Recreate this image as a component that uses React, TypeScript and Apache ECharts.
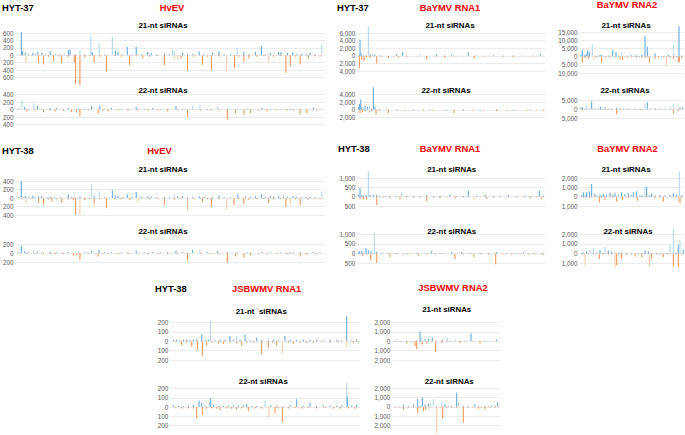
import React, { useEffect, useRef } from "react";
import * as echarts from "echarts";

// [genome bin, siRNA reads, light?]  positive = sense (blue), negative = antisense (orange)
type Bar = [number, number, number?];

// ---------- HYT-37 ----------
const hyt37HvEV21Pos: Bar[] = [[58,620],[62,110],[70,70],[80,25],[93,70],[100,30],[108,90],[120,70],[130,20],[145,110],[160,25],[175,30],[188,20],[200,140],[205,160],[220,30],[235,140,1],[250,20],[268,530,1],[272,90],[293,320,1],[310,25],[333,490,1],[342,130],[350,90],[365,30],[378,220],[392,25],[405,220],[420,30],[440,90],[450,70],[465,25],[490,40],[505,30],[515,160,1],[520,110,1],[545,70],[560,25],[575,30],[595,110],[610,25],[635,70],[655,110],[670,30],[690,25],[710,190,1],[730,90],[745,30],[765,90],[783,240],[795,30],[810,70],[820,90,1],[835,90],[842,90],[862,70],[878,90],[890,25],[905,40],[918,30],[930,70],[945,25],[965,270,1]];
const hyt37HvEV21Neg: Bar[] = [[60,-30],[72,-200,1],[90,-30],[110,-200],[125,-250],[140,-40],[155,-160],[170,-30],[180,-200],[200,-40],[218,-200],[222,-770],[235,-810],[250,-60],[265,-30],[278,-190],[295,-40],[315,-440],[340,-30],[360,-40],[385,-270],[405,-30],[425,-90],[445,-40],[470,-30],[490,-260],[520,-110,1],[530,-120,1],[540,-90],[560,-410],[580,-40],[605,-260],[620,-40],[632,-410],[655,-40],[678,-440,1],[702,-350],[715,-40],[730,-190],[745,-90],[770,-40],[790,-30],[805,-190,1],[820,-40],[840,-30],[857,-470],[870,-300],[885,-40],[900,-250],[925,-90],[945,-30],[960,-40]];
const hyt37HvEV22Pos: Bar[] = [[50,30],[60,260,1],[68,70],[80,20],[95,160,1],[107,100],[120,20],[145,40],[165,40],[185,20],[200,40],[230,20],[250,20],[270,90],[295,110],[310,20],[330,40],[360,20],[380,20],[405,70],[430,20],[455,40],[480,20],[500,20],[525,90],[545,20],[575,110,1],[597,130,1],[620,20],[650,70,1],[680,20],[710,20],[740,20],[785,40],[810,20],[840,20],[870,20],[900,20],[940,50],[960,20]];
const hyt37HvEV22Neg: Bar[] = [[75,-50],[100,-30],[125,-80],[145,-30],[160,-50],[185,-30],[210,-70],[225,-80],[235,-180],[260,-30],[290,-120],[305,-30],[320,-50],[350,-30],[380,-30],[410,-30],[440,-30],[470,-30],[500,-50],[530,-30],[560,-200],[600,-30],[630,-30],[655,-30],[680,-260],[705,-100],[730,-150],[750,-100],[775,-30],[800,-50],[830,-30],[860,-30],[880,-30],[900,-130],[920,-100],[950,-30]];

const hyt37R1_21Pos: Bar[] = [[88,300],[90,4200],[93,700],[100,200],[108,150],[115,7800,1],[120,400],[128,200],[135,400],[150,150],[170,100],[200,400],[218,1000],[240,100],[270,150],[300,100],[320,400],[345,100],[365,350],[390,100],[415,900],[440,150],[465,100],[490,250],[520,100],[550,150],[580,100],[610,100],[632,500]];
const hyt37R1_21Neg: Bar[] = [[88,-3300],[95,-1100],[102,-1400],[110,-300],[120,-500],[130,-200],[140,-2000],[155,-200],[175,-600],[190,-200],[205,-400],[230,-200],[260,-150],[290,-900],[320,-200],[345,-500],[370,-200],[400,-150],[432,-800],[460,-200],[490,-150],[520,-200],[550,-400],[580,-150],[610,-200],[640,-150]];
const hyt37R1_22Pos: Bar[] = [[86,800],[88,1500],[92,2700],[95,700],[100,300],[105,1000],[112,800],[118,1000,1],[125,300],[130,5900],[135,800],[145,200],[170,150],[200,150],[250,150],[300,150],[350,150],[400,150],[450,150],[500,150],[550,150],[600,150],[640,150]];
const hyt37R1_22Neg: Bar[] = [[90,-900],[97,-600],[105,-300],[118,-800,1],[125,-300],[138,-1300],[150,-250],[175,-800],[200,-250],[225,-200],[250,-200],[280,-250],[310,-200],[340,-200],[372,-800],[400,-200],[430,-200],[460,-200],[500,-400],[530,-200],[560,-200],[590,-200],[620,-200],[640,-200]];

const hyt37R2_21Pos: Bar[] = [[753,1200],[757,4200],[763,800],[768,1700],[773,3800],[778,2800],[787,7600,1],[795,500],[800,400],[810,1000],[815,1000],[825,400],[835,600],[848,3800],[858,2800],[866,500],[875,2800,1],[885,400],[895,500],[905,800],[912,400],[920,800],[928,400],[935,1000],[945,12700],[952,6000],[962,500],[975,2100],[985,400],[995,300],[1005,500],[1015,1000],[1022,400],[1030,7600,1],[1035,600],[1041,400],[1047,18500],[1055,600]];
const hyt37R2_21Neg: Bar[] = [[757,-3400],[765,-800],[775,-1400],[790,-1800,1],[800,-500],[815,-3400],[828,-600],[840,-500],[855,-600],[870,-1400],[878,-2000],[890,-600],[905,-500],[920,-500],[935,-600],[948,-800],[958,-3800],[975,-1400],[985,-500],[1000,-600],[1010,-5600,1],[1020,-600],[1030,-1400],[1045,-3400],[1048,-3400],[1055,-800]];
const hyt37R2_22Pos: Bar[] = [[753,800],[757,1200],[763,500],[770,2500,1],[778,500],[785,4400],[795,400],[805,500],[812,1300],[818,500],[825,1000],[835,500],[845,400],[860,800],[870,600],[880,400],[890,400],[900,500],[915,400],[930,400],[945,3500,1],[952,4000],[962,400],[975,600],[990,400],[1005,400],[1020,1500,1],[1030,3300,1],[1040,400],[1050,1200],[1058,1200]];
const hyt37R2_22Neg: Bar[] = [[757,-600],[770,-400],[790,-300],[810,-300],[830,-300],[845,-400],[860,-2900],[875,-300],[895,-300],[915,-300],[935,-600],[955,-300],[975,-300],[995,-300],[1015,-300],[1030,-2300],[1045,-800],[1058,-300]];

// ---------- HYT-38 ----------
const hyt38HvEV21Pos: Bar[] = [[50,20],[58,400],[65,20],[70,40],[80,20],[93,60],[100,25],[110,40],[120,40],[135,20],[145,25],[160,20],[175,20],[200,80],[210,25],[220,20],[235,40],[250,20],[270,330,1],[278,40],[293,160,1],[310,25],[333,180],[342,60],[350,40],[365,25],[378,90],[392,25],[405,140],[420,25],[440,40],[450,30],[465,25],[490,30],[505,25],[520,80,1],[530,40],[545,40],[560,20],[575,25],[595,40],[610,25],[635,25],[655,60],[670,25],[690,20],[712,100],[735,40],[750,25],[765,40],[783,90],[795,25],[810,40],[820,30],[835,40],[850,40],[862,30],[878,40],[890,25],[905,20],[918,25],[930,30],[945,20],[965,160,1]];
const hyt38HvEV21Neg: Bar[] = [[60,-25],[72,-120,1],[90,-25],[110,-120],[125,-150],[140,-30],[150,-80],[165,-25],[180,-120],[200,-30],[215,-60],[222,-400],[235,-390,1],[250,-55],[265,-25],[278,-150],[295,-30],[315,-240],[340,-25],[360,-30],[385,-40],[410,-100,1],[445,-30],[470,-25],[490,-160],[520,-40],[540,-30],[560,-320,1],[580,-30],[605,-100],[620,-30],[632,-215],[655,-30],[678,-270,1],[700,-160],[715,-30],[730,-140],[745,-40],[770,-30],[790,-25],[805,-120],[820,-30],[840,-25],[857,-215],[870,-160,1],[885,-30],[900,-160],[925,-40],[945,-25],[960,-30]];
const hyt38HvEV22Pos: Bar[] = [[50,20],[58,160],[68,40],[80,15],[95,75,1],[107,30],[120,15],[145,20],[165,15],[200,20],[230,15],[250,15],[270,40],[293,75],[310,15],[330,20],[360,15],[380,15],[405,50],[430,15],[455,20],[480,15],[500,15],[525,50],[545,15],[575,75],[597,75,1],[620,15],[650,40],[680,15],[710,15],[740,15],[785,20],[810,15],[840,15],[870,15],[900,15],[940,20],[960,15]];
const hyt38HvEV22Neg: Bar[] = [[75,-25],[100,-20],[125,-30],[145,-20],[160,-25],[185,-20],[215,-55],[225,-40],[235,-160],[260,-20],[290,-80],[305,-20],[320,-30],[350,-20],[380,-20],[410,-20],[440,-20],[470,-20],[500,-30],[530,-20],[560,-160],[600,-20],[630,-20],[655,-20],[680,-215],[705,-80],[730,-100],[750,-55],[775,-20],[800,-30],[830,-20],[860,-20],[880,-20],[900,-80],[920,-40],[950,-20]];

const hyt38R1_21Pos: Bar[] = [[86,100],[90,450],[95,80],[100,60],[108,80],[115,1350,1],[120,90],[130,100],[140,90],[150,50],[165,40],[180,50],[200,40],[215,230,1],[230,50],[250,40],[270,50],[290,90],[310,40],[330,50],[360,100],[380,40],[400,50],[415,320],[440,50],[465,90],[490,40],[510,50],[535,90],[560,40],[585,50],[605,40],[628,320],[640,40]];
const hyt38R1_21Neg: Bar[] = [[90,-130],[100,-130],[110,-160],[125,-50],[140,-440],[160,-40],[180,-100],[195,-40],[210,-130],[230,-40],[250,-50],[270,-40],[290,-240],[310,-40],[330,-80],[350,-40],[375,-80],[400,-40],[432,-160,1],[450,-40],[470,-130],[490,-40],[510,-50],[530,-40],[560,-50],[580,-40],[600,-100],[620,-40],[635,-130]];
const hyt38R1_22Pos: Bar[] = [[85,60],[88,120],[95,120],[100,40],[108,280],[115,170],[123,120],[133,1050,1],[140,80],[155,30],[175,30],[200,30],[230,30],[260,30],[285,30],[305,150],[330,30],[365,80],[395,80],[420,30],[450,30],[475,30],[500,70],[530,30],[555,30],[580,70],[610,30],[635,30]];
const hyt38R1_22Neg: Bar[] = [[90,-40],[98,-100],[110,-40],[122,-360],[130,-40],[140,-480],[155,-40],[180,-170],[200,-40],[220,-50],[240,-40],[265,-100],[290,-40],[315,-50],[340,-40],[375,-280],[400,-40],[432,-170],[455,-40],[475,-50],[497,-540],[520,-40],[545,-50],[570,-40],[595,-50],[615,-40],[640,-70]];

const hyt38R2_21Pos: Bar[] = [[755,150],[760,460],[765,120],[770,460],[778,570],[785,1350],[795,280],[802,100],[810,200],[815,100],[820,280],[830,200],[840,400],[848,150],[855,400],[865,120],[875,460],[885,280],[895,400],[903,150],[910,460],[920,570],[930,150],[938,120],[945,1100,1],[950,1070],[958,150],[965,350],[975,120],[990,180],[1005,120],[1020,180],[1030,350],[1040,180],[1048,2700,1],[1055,150]];
const hyt38R2_21Neg: Bar[] = [[760,-100],[770,-80],[780,-150],[795,-100],[808,-630],[815,-80],[825,-330],[840,-100],[850,-80],[860,-550],[870,-100],[878,-370],[888,-80],[895,-180],[910,-100],[922,-440],[935,-100],[950,-80],[962,-100],[975,-180],[988,-80],[1000,-550],[1012,-100],[1025,-80],[1035,-120],[1045,-520,1],[1050,-700],[1058,-100]];
const hyt38R2_22Pos: Bar[] = [[755,80],[760,130],[770,230],[780,400,1],[790,570,1],[800,100],[810,400],[818,100],[825,670,1],[835,330],[845,230],[855,100],[865,80],[875,130],[890,80],[905,80],[920,80],[935,100],[945,330],[955,230],[965,80],[980,80],[995,80],[1010,100],[1020,900,1],[1030,2500,1],[1038,100],[1045,900],[1050,1330,1],[1060,400]];
const hyt38R2_22Neg: Bar[] = [[758,-80],[765,-1150,1],[775,-80],[790,-100],[808,-550],[820,-80],[835,-100],[845,-80],[855,-1400,1],[860,-1150],[868,-100],[875,-550],[890,-100],[905,-80],[915,-280],[925,-80],[935,-340],[945,-100],[958,-1300,1],[965,-550],[980,-80],[990,-100],[1000,-340],[1012,-80],[1020,-100],[1030,-1300],[1038,-80],[1045,-1400],[1055,-100]];

const hyt38J1_21Pos: Bar[] = [[100,20],[110,20],[120,10],[130,15],[140,18],[150,10],[160,15],[170,20],[185,70],[195,15],[205,15],[211,215,1],[225,10],[240,20],[255,15],[270,55],[280,15],[290,60,1],[300,15],[315,70],[330,10],[350,40],[365,15],[385,35,1],[400,20],[415,10],[435,55],[450,15],[470,15],[490,20],[510,20],[530,15],[550,10],[570,20],[590,15],[605,10],[620,270],[635,10],[650,20]];
const hyt38J1_21Neg: Bar[] = [[105,-10],[125,-45],[140,-15],[155,-55],[172,-95],[187,-160],[200,-45],[215,-15],[235,-25],[250,-30],[270,-15],[290,-20],[305,-45],[320,-15],[340,-15],[365,-140],[385,-70],[398,-15],[410,-45],[427,-130,1],[445,-15],[460,-30],[480,-15],[500,-15],[520,-15],[545,-10],[570,-15],[595,-15],[620,-70,1],[640,-15],[655,-10]];
const hyt38J1_22Pos: Bar[] = [[100,15],[115,10],[130,10],[145,15],[160,25],[177,70],[185,45],[195,10],[208,60,1],[212,95],[220,25],[235,10],[250,10],[265,10],[280,15],[295,10],[310,15],[320,35],[335,10],[350,10],[375,70,1],[392,20],[410,10],[430,10],[450,15],[470,85],[490,10],[510,45],[530,10],[550,15],[570,10],[590,10],[605,15],[620,260,1],[622,120],[635,15],[650,25]];
const hyt38J1_22Neg: Bar[] = [[105,-10],[125,-15],[145,-15],[160,-20],[170,-125],[187,-85],[200,-20],[215,-15],[230,-20],[240,-35],[260,-15],[275,-20],[290,-30],[305,-15],[325,-45],[345,-15],[365,-15],[387,-110,1],[405,-70],[415,-15],[427,-165],[445,-15],[465,-10],[485,-15],[505,-10],[530,-15],[555,-10],[580,-15],[600,-20],[625,-15],[645,-20]];

const hyt38J2_21Pos: Bar[] = [[105,40],[110,70],[125,40],[140,50],[155,40],[170,100],[180,1070],[185,460,1],[195,180],[205,250],[217,390],[230,60],[247,180],[262,350,1],[270,80],[285,210,1],[300,60],[315,70],[333,820],[345,50],[360,60],[375,50],[390,60],[410,180]];
const hyt38J2_21Neg: Bar[] = [[105,-60],[120,-80],[140,-250],[155,-100],[165,-540],[170,-850],[180,-100],[187,-320],[200,-250],[212,-80],[227,-1140],[245,-180],[260,-80],[275,-60],[300,-180],[320,-60],[340,-80],[360,-250],[380,-60],[400,-80],[415,-60]];
const hyt38J2_22Pos: Bar[] = [[105,60],[115,60],[130,200],[145,80],[160,240],[173,830],[180,100],[187,1000],[195,240],[205,310],[212,480,1],[220,830,1],[230,100],[245,590,1],[255,240],[265,80],[275,100],[290,1520],[296,480,1],[310,100],[325,80],[345,240],[360,80],[375,100],[385,80],[395,140],[405,100],[413,480]];
const hyt38J2_22Neg: Bar[] = [[105,-80],[118,-60],[130,-280],[145,-80],[160,-100],[173,-700],[180,-100],[190,-460],[197,-350],[210,-100],[230,-2850,1],[240,-100],[248,-1250],[260,-100],[275,-80],[290,-100],[310,-1700],[325,-80],[340,-100],[355,-200],[365,-80],[375,-280],[390,-80],[405,-100],[415,-60]];

// ---------- layout (pixel boxes, axis ranges) ----------
type Panel = {
  pos: Bar[]; neg: Bar[];
  xr: [number, number];
  box: [number, number, number, number]; // left, top, width, height
  yr: [number, number, number]; // min, max, interval
};

const panels: Panel[] = [
  { pos: hyt37HvEV21Pos, neg: hyt37HvEV21Neg, xr: [42, 975], box: [14, 33, 311, 44.5], yr: [-600, 600, 200] },
  { pos: hyt37HvEV22Pos, neg: hyt37HvEV22Neg, xr: [42, 975], box: [14, 94.5, 311, 30], yr: [-400, 400, 200] },
  { pos: hyt37R1_21Pos, neg: hyt37R1_21Neg, xr: [83, 645], box: [357.7, 33, 187.3, 38], yr: [-4000, 6000, 2000] },
  { pos: hyt37R1_22Pos, neg: hyt37R1_22Neg, xr: [83, 645], box: [357.7, 94.5, 187.3, 23], yr: [-2000, 4000, 2000] },
  { pos: hyt37R2_21Pos, neg: hyt37R2_21Neg, xr: [750, 1062], box: [580, 32, 104, 41], yr: [-10000, 15000, 5000] },
  { pos: hyt37R2_22Pos, neg: hyt37R2_22Neg, xr: [750, 1062], box: [580, 100.5, 104, 17.5], yr: [-5000, 5000, 5000] },
  { pos: hyt38HvEV21Pos, neg: hyt38HvEV21Neg, xr: [42, 975], box: [14, 181, 311, 34], yr: [-400, 400, 200] },
  { pos: hyt38HvEV22Pos, neg: hyt38HvEV22Neg, xr: [42, 975], box: [14, 244, 311, 18], yr: [-200, 200, 200] },
  { pos: hyt38R1_21Pos, neg: hyt38R1_21Neg, xr: [83, 645], box: [357.7, 178, 187.3, 28], yr: [-500, 1000, 500] },
  { pos: hyt38R1_22Pos, neg: hyt38R1_22Neg, xr: [83, 645], box: [357.7, 234, 187.3, 29.5], yr: [-500, 1000, 500] },
  { pos: hyt38R2_21Pos, neg: hyt38R2_21Neg, xr: [750, 1062], box: [580, 178, 104, 28], yr: [-1000, 2000, 1000] },
  { pos: hyt38R2_22Pos, neg: hyt38R2_22Neg, xr: [750, 1062], box: [580, 234, 104, 29.5], yr: [-1000, 2000, 1000] },
  { pos: hyt38J1_21Pos, neg: hyt38J1_21Neg, xr: [92, 660], box: [170.7, 322.5, 189.3, 37.5], yr: [-200, 200, 100] },
  { pos: hyt38J1_22Pos, neg: hyt38J1_22Neg, xr: [92, 660], box: [170.7, 388.5, 189.3, 37], yr: [-200, 200, 100] },
  { pos: hyt38J2_21Pos, neg: hyt38J2_21Neg, xr: [98, 420], box: [392.7, 322.5, 107.3, 37.5], yr: [-2000, 2000, 1000] },
  { pos: hyt38J2_22Pos, neg: hyt38J2_22Neg, xr: [98, 420], box: [392.7, 388, 107.3, 37.5], yr: [-2000, 2000, 1000] },
];

// [text, x, y, kind]  kind: 0 sample, 1 virus (red), 2 panel subtitle
const labels: [string, number, number, number][] = [
  ["HYT-37", 2, 7.5, 0], ["HvEV", 172, 7.5, 1], ["21-nt siRNAs", 163, 25.5, 2], ["22-nt siRNAs", 163, 90.5, 2],
  ["HYT-37", 337, 7, 0], ["BaYMV RNA1", 450, 7, 1], ["21-nt siRNAs", 450, 25.5, 2], ["22-nt siRNAs", 446, 90.8, 2],
  ["BaYMV RNA2", 627, 4.5, 1], ["21-nt siRNAs", 626, 25.5, 2], ["22-nt siRNAs", 625, 90.8, 2],
  ["HYT-38", 2, 150.3, 0], ["HvEV", 159.5, 150, 1], ["21-nt siRNAs", 163, 169.7, 2], ["22-nt siRNAs", 163, 231, 2],
  ["HYT-38", 338, 148.3, 0], ["BaYMV RNA1", 450, 148, 1], ["21-nt siRNAs", 451.7, 169.5, 2], ["22-nt siRNAs", 451.7, 231, 2],
  ["BaYMV RNA2", 627.5, 148, 1], ["21-nt siRNAs", 626, 169.5, 2], ["22-nt siRNAs", 628, 231, 2],
  ["HYT-38", 155, 288.3, 0], ["JSBWMV RNA1", 266.7, 288, 1], ["21-nt  siRNAs", 261.3, 311.3, 2], ["22-nt siRNAs", 263.3, 381.3, 2],
  ["JSBWMV RNA2", 453, 287.3, 1], ["21-nt siRNAs", 446.7, 309.7, 2], ["22-nt siRNAs", 449.2, 381.3, 2],
];

const BLUE = "#66AADD";
const BLUE_L = "#B6D8F1";
const ORANGE = "#F39A5C";
const ORANGE_L = "#F9CCAA";
const FONT = "'Liberation Sans', Arial, sans-serif";

function fmt(v: number) {
  return Math.abs(v).toLocaleString("en-US");
}

export default function App() {
  const ref = useRef<HTMLDivElement>(null);
  useEffect(() => {
    if (!ref.current) return;
    const chart = echarts.init(ref.current, undefined, { renderer: "svg" });
    const grid: any[] = [];
    const xAxis: any[] = [];
    const yAxis: any[] = [];
    const series: any[] = [];
    panels.forEach((p, i) => {
      grid.push({ left: p.box[0], top: p.box[1], width: p.box[2], height: p.box[3], containLabel: false });
      xAxis.push({ gridIndex: i, type: "value", min: p.xr[0], max: p.xr[1], show: false });
      yAxis.push({
        gridIndex: i, type: "value", min: p.yr[0], max: p.yr[1], interval: p.yr[2],
        axisLine: { show: false }, axisTick: { show: false },
        splitLine: { show: true, lineStyle: { color: "#e3e3e3", width: 0.7 } },
        axisLabel: { fontSize: 6.3, color: "#595959", margin: 2.5, fontFamily: FONT, formatter: fmt },
      });
      const data = [
        ...p.pos.map((b) => ({ value: [b[0], b[1]], itemStyle: { color: b[2] ? BLUE_L : BLUE } })),
        ...p.neg.map((b) => ({ value: [b[0], b[1]], itemStyle: { color: b[2] ? ORANGE_L : ORANGE } })),
      ];
      series.push({
        type: "bar", xAxisIndex: i, yAxisIndex: i, barWidth: 1.1, clip: false,
        data, silent: true,
      });
    });
    const graphic = labels.map(([t, x, y, k]) => ({
      type: "text", x, y, silent: true,
      style: {
        text: t,
        fill: k === 1 ? "#FF0000" : "#000000",
        font: `bold ${k === 2 ? 7.9 : 9.4}px ${FONT}`,
        fontFamily: FONT, fontWeight: "bold", fontSize: k === 2 ? 7.9 : 9.4,
        align: k === 0 ? "left" : "center", verticalAlign: "middle",
        textAlign: k === 0 ? "left" : "center", textVerticalAlign: "middle",
      },
    }));
    chart.setOption({ animation: false, backgroundColor: "#ffffff", grid, xAxis, yAxis, series, graphic });
    return () => chart.dispose();
  }, []);
  return <div ref={ref} style={{ position: "absolute", left: 0, top: 0, width: 685, height: 435 }} />;
}
